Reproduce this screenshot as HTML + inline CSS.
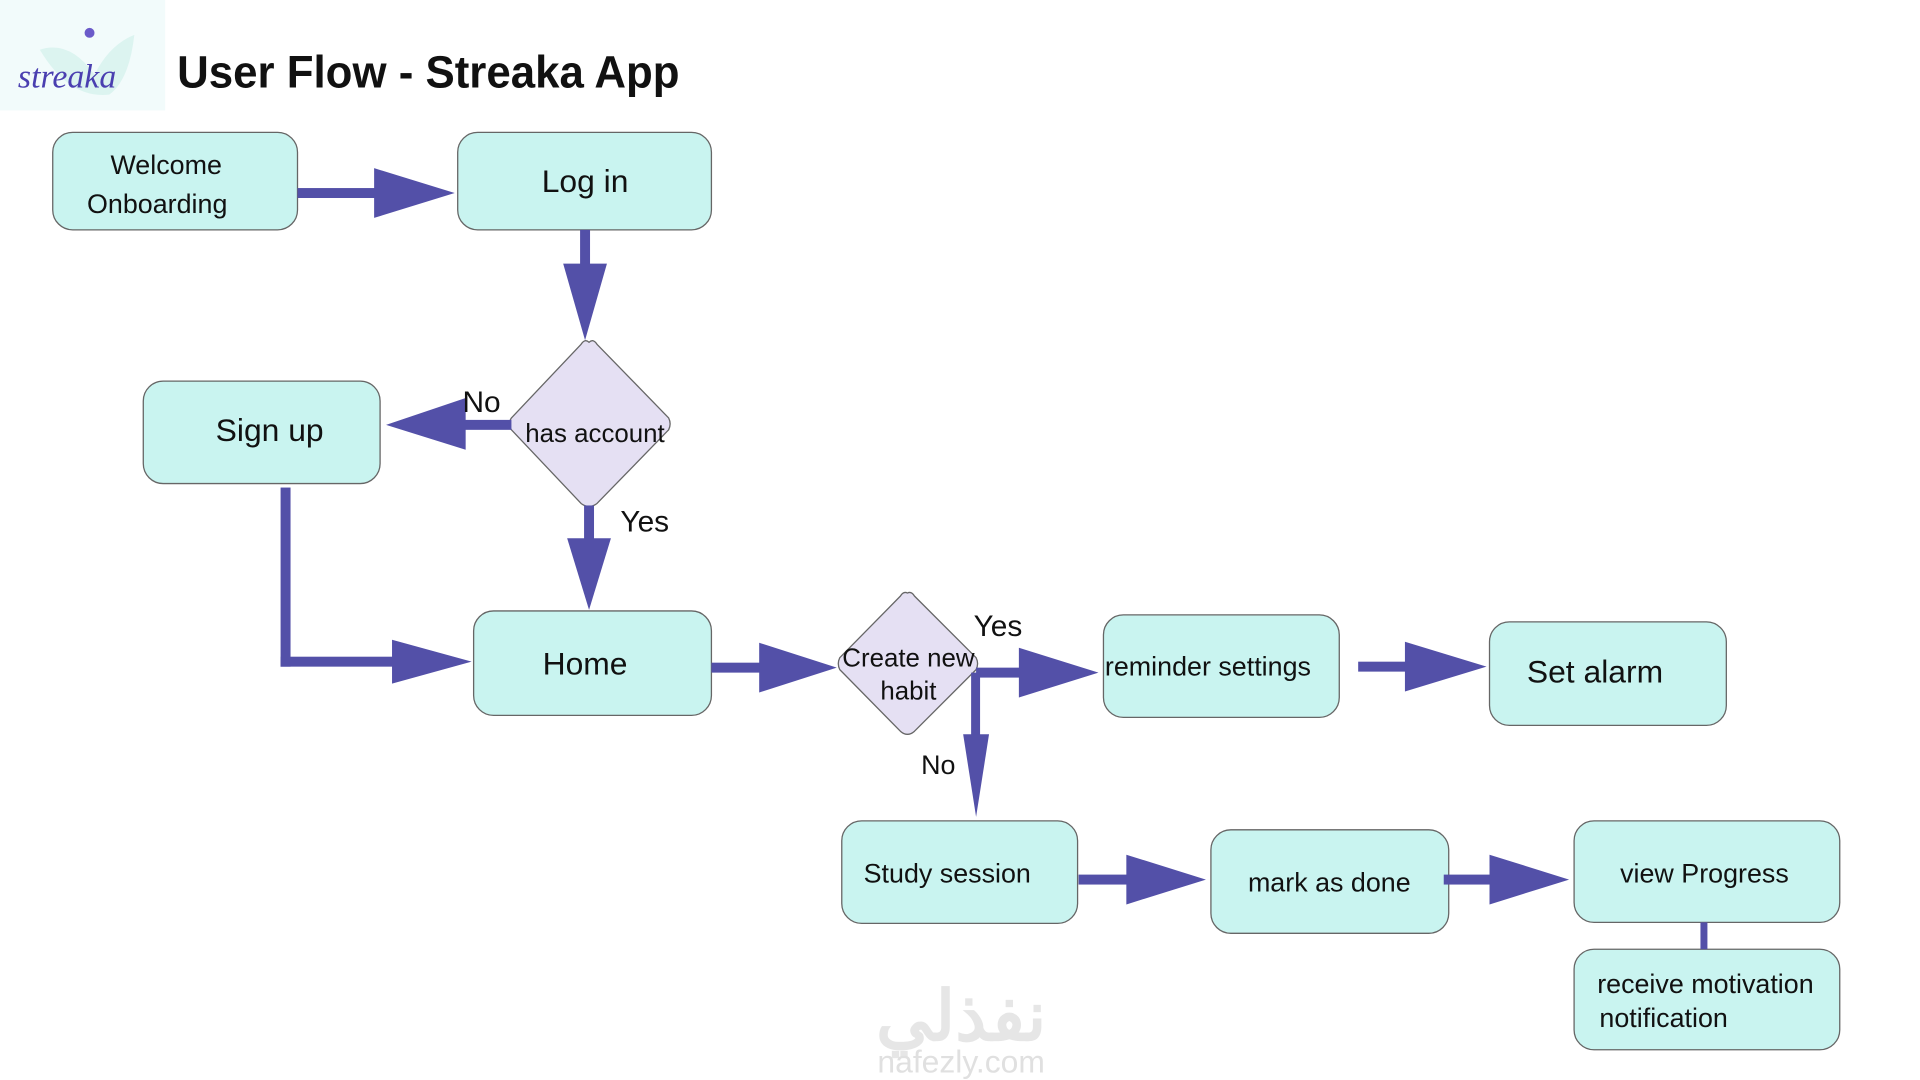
<!DOCTYPE html>
<html><head><meta charset="utf-8"><style>
html,body{margin:0;padding:0;background:#fff;}
svg{display:block;font-family:"Liberation Sans","Noto Sans CJK SC",sans-serif;}
</style></head><body>
<svg width="1920" height="1080" viewBox="0 0 1920 1080" xmlns="http://www.w3.org/2000/svg">
<g transform="scale(0.995)">
<rect x="0" y="0" width="166" height="111" fill="#f2fbfb"/>
<path d="M40 50 Q70 40 95 75 Q110 45 135 35 Q130 80 110 95 Q70 100 40 50Z" fill="#d6f3ee" opacity="0.8"/>
<circle cx="90" cy="33" r="5" fill="#6b5bc9"/>
<text x="18" y="88" font-size="34" font-style="italic" fill="#4a3fb0" font-family="Liberation Serif,serif">streaka</text>
<text x="178" y="88" font-size="46" font-weight="bold" fill="#111" textLength="505" lengthAdjust="spacingAndGlyphs">User Flow - Streaka App</text>

<g fill="#c9f4f0" stroke="#666" stroke-width="1.3">
<rect x="53" y="133" width="246" height="98" rx="20"/>
<rect x="460" y="133" width="255" height="98" rx="20"/>
<rect x="144" y="383" width="238" height="103" rx="20"/>
<rect x="476" y="614" width="239" height="105" rx="20"/>
<rect x="1109" y="618" width="237" height="103" rx="20"/>
<rect x="1497" y="625" width="238" height="104" rx="20"/>
<rect x="846" y="825" width="237" height="103" rx="20"/>
<rect x="1217" y="834" width="239" height="104" rx="20"/>
<rect x="1582" y="825" width="267" height="102" rx="20"/>
<rect x="1582" y="954" width="267" height="101" rx="20"/>
</g>
<g fill="#e5e0f3" stroke="#666" stroke-width="1.3" stroke-linejoin="round">
<path d="M592 344 Q596 340 600 346 L672 420 Q675 426 672 432 L600 506 Q592 512 584 506 L514 432 Q510 426 514 420 L584 346 Q588 340 592 344Z"/>
<path d="M912 596 Q916 594 919 599 L981 661 Q984 667 981 673 L919 735 Q912 741 905 735 L844 673 Q841 667 844 661 L905 599 Q908 594 912 596Z"/>
</g>

<g fill="#5350a8" stroke="none">
<rect x="299" y="189" width="80" height="10"/><polygon points="376,169 457,194 376,219"/>
<rect x="583" y="231" width="10" height="36"/><polygon points="566,265 610,265 588,342"/>
<rect x="466" y="422" width="48" height="10"/><polygon points="468,400 468,452 388,427"/>
<rect x="587" y="508" width="10" height="35"/><polygon points="570,541 614,541 592,613"/>
<rect x="282" y="490" width="10" height="180"/><rect x="282" y="660" width="115" height="10"/><polygon points="394,643 474,665 394,687"/>
<rect x="715" y="666" width="50" height="10"/><polygon points="763,646 841,671 763,696"/>
<rect x="981" y="671" width="45" height="10"/><polygon points="1024,651 1104,676 1024,701"/>
<rect x="976" y="676" width="9" height="64"/><polygon points="968,738 994,738 981,821"/>
<rect x="1365" y="665" width="49" height="10"/><polygon points="1412,645 1494,670 1412,695"/>
<rect x="1084" y="879" width="50" height="10"/><polygon points="1132,859 1212,884 1132,909"/>
<rect x="1451" y="879" width="48" height="10"/><polygon points="1497,859 1577,884 1497,909"/>
<rect x="1709" y="927" width="7" height="27"/>
</g>

<g fill="#111" text-anchor="middle">
<text x="167" y="175" font-size="27">Welcome</text>
<text x="158" y="214" font-size="27">Onboarding</text>
<text x="588" y="193" font-size="32">Log in</text>
<text x="271" y="443" font-size="32">Sign up</text>
<text x="598" y="444" font-size="26">has account</text>
<text x="588" y="678" font-size="32">Home</text>
<text x="913" y="670" font-size="26">Create new</text>
<text x="913" y="703" font-size="26">habit</text>
<text x="1214" y="679" font-size="27">reminder settings</text>
<text x="1603" y="686" font-size="32">Set alarm</text>
<text x="952" y="887" font-size="27">Study session</text>
<text x="1336" y="896" font-size="27">mark as done</text>
<text x="1713" y="887" font-size="27">view Progress</text>
<text x="1714" y="998" font-size="27">receive motivation</text>
<text x="1672" y="1032" font-size="27">notification</text>
<text x="484" y="414" font-size="30">No</text>
<text x="648" y="534" font-size="30">Yes</text>
<text x="1003" y="639" font-size="30">Yes</text>
<text x="943" y="778" font-size="27">No</text>
</g>
<text x="966" y="1045" font-size="70" font-weight="bold" fill="#e6e6e6" text-anchor="middle">نفذلي</text>
<text x="966" y="1078" font-size="32" fill="#e0e0e0" text-anchor="middle">nafezly.com</text>
</g>
</svg>
</body></html>
